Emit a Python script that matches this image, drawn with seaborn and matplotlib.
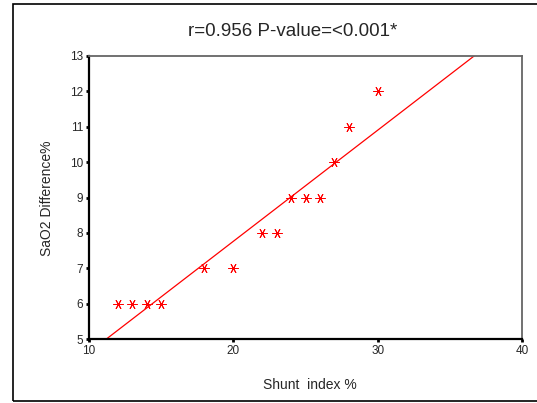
import matplotlib
matplotlib.use("Agg")
import matplotlib.pyplot as plt
import pandas as pd
import seaborn as sns
from matplotlib.patches import Rectangle

shunt_index = [12, 13, 14, 15, 18, 20, 22, 23, 24, 25, 26, 27, 28, 30]
sao2_diff = [6, 6, 6, 6, 7, 7, 8, 8, 9, 9, 9, 10, 11, 12]
x_ticks = [10, 20, 30, 40]
y_ticks = [5, 6, 7, 8, 9, 10, 11, 12, 13]

df = pd.DataFrame({"shunt": shunt_index, "sao2": sao2_diff})

sns.set_style("white")
plt.rcParams["font.family"] = ["Liberation Sans", "DejaVu Sans"]

fig = plt.figure(figsize=(5.37, 4.03), dpi=100)
ax = fig.add_axes([89 / 537, 1 - 339 / 403, (522 - 89) / 537, (339 - 56) / 403])

# limits first, so the untruncated fit line spans the whole x range
ax.set_xlim(10, 40)
ax.set_ylim(5, 13)

sns.regplot(data=df, x="shunt", y="sao2", ax=ax, ci=None, scatter=False,
            truncate=False, color="red", line_kws={"linewidth": 0.9})
sns.scatterplot(data=df, x="shunt", y="sao2", ax=ax, marker=(6, 2, 90),
                color="red", s=45, linewidth=0.7)

ax.set_xlim(10, 40)
ax.set_ylim(5, 13)
ax.set_xticks(x_ticks)
ax.set_yticks(y_ticks)
ax.tick_params(axis="both", direction="out", length=2, width=2, labelsize=8.5,
               pad=2, color="black", left=True, bottom=True)
ax.set_xlabel("")
ax.set_ylabel("")

for side in ["left", "bottom"]:
    ax.spines[side].set_color("black")
    ax.spines[side].set_linewidth(1.6)
for side in ["top", "right"]:
    ax.spines[side].set_color("#666666")
    ax.spines[side].set_linewidth(1.3)

fig.text(310 / 537, 1 - 385 / 403, "Shunt  index %", ha="center", va="center",
         fontsize=10)
fig.text(47 / 537, 1 - 198 / 403, "SaO2 Difference%", ha="center", va="center",
         rotation=90, fontsize=10)
fig.text(293 / 537, 1 - 31 / 403, "r=0.956 P-value=<0.001*", ha="center",
         va="center", fontsize=13.5)

fig.patches.append(Rectangle((13 / 537, 2 / 403), 1.0, 397 / 403,
                             transform=fig.transFigure, fill=False,
                             edgecolor="black", linewidth=1.2, clip_on=False))

fig.savefig("out.png", dpi=100)
